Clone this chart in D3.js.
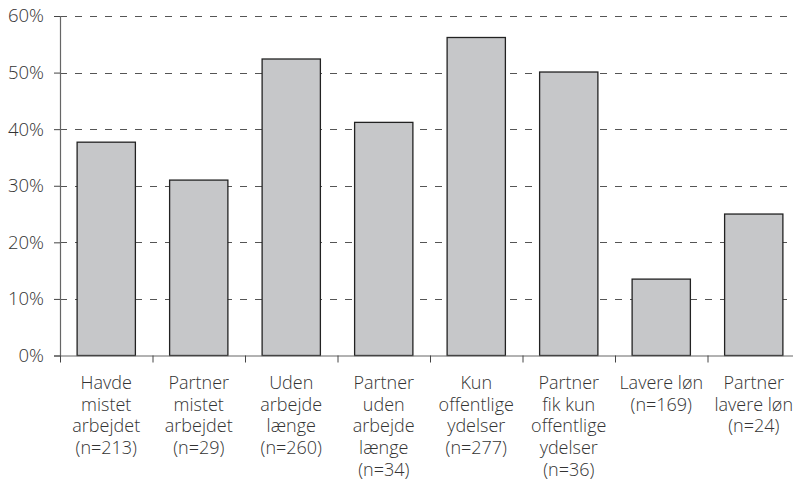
<!DOCTYPE html>
<html>
<head>
<meta charset="utf-8">
<script src="https://cdn.jsdelivr.net/npm/d3@7"></script>
<style>
  body { margin: 0; background: #fff; }
  svg { display: block; font-family: "Open Sans", "Noto Sans", sans-serif; font-weight: 300; }
</style>
</head>
<body>
<svg id="chart"></svg>
<script>
// categories, each line of the label separately
const categories = [
  ["Havde", "mistet", "arbejdet", "(n=213)"],
  ["Partner", "mistet", "arbejdet", "(n=29)"],
  ["Uden", "arbejde", "længe", "(n=260)"],
  ["Partner", "uden", "arbejde", "længe", "(n=34)"],
  ["Kun", "offentlige", "ydelser", "(n=277)"],
  ["Partner", "fik kun", "offentlige", "ydelser", "(n=36)"],
  ["Lavere løn", "(n=169)"],
  ["Partner", "lavere løn", "(n=24)"]
];
const values = [37.7, 31.0, 52.4, 41.2, 56.2, 50.1, 13.5, 25.0];
const yTicks = [0, 10, 20, 30, 40, 50, 60];

const width = 793, height = 489;
const marginLeft = 60, marginTop = 16, marginBottom = 133.5;

const svg = d3.select('#chart')
  .attr('width', width)
  .attr('height', height);

const x = d3.scaleBand()
  .domain(d3.range(categories.length))
  .range([marginLeft, 800])
  .paddingInner(0.37)
  .paddingOuter(0.185);

const xEdges = d3.scaleLinear()
  .domain([0, categories.length])
  .range([marginLeft, 800]);

const y = d3.scaleLinear()
  .domain([0, 60])
  .range([height - marginBottom, marginTop]);

// dashed grid lines
svg.append('g')
  .selectAll('line')
  .data(yTicks.filter(d => d > 0))
  .join('line')
  .attr('x1', marginLeft)
  .attr('x2', width)
  .attr('y1', d => Math.round(y(d)) + 0.5)
  .attr('y2', d => Math.round(y(d)) + 0.5)
  .attr('stroke', '#555')
  .attr('stroke-width', 1)
  .attr('stroke-dasharray', '7,8');

// bars
svg.append('g')
  .selectAll('rect')
  .data(values)
  .join('rect')
  .attr('x', (d, i) => x(i))
  .attr('y', d => y(d))
  .attr('width', x.bandwidth())
  .attr('height', d => y(0) - y(d))
  .attr('fill', '#c6c7c9')
  .attr('stroke', '#222')
  .attr('stroke-width', 1.3);

// y axis
const yAxis = svg.append('g')
  .attr('transform', `translate(${marginLeft},0)`)
  .call(d3.axisLeft(y).tickValues(yTicks).tickFormat(d => d + '%').tickSize(6).tickPadding(10));
yAxis.select('.domain').attr('stroke', '#666').attr('stroke-width', 1.2);
yAxis.selectAll('.tick line').attr('stroke', '#444');
yAxis.selectAll('.tick text')
  .attr('fill', '#333')
  .style('font-size', '18.5px')
  .style('font-family', '"Open Sans", "Noto Sans", sans-serif')
  .style('font-weight', 300);

// x axis line with boundary ticks
const xAxis = svg.append('g')
  .attr('transform', `translate(0,${y(0)})`)
  .call(d3.axisBottom(xEdges).tickValues(d3.range(categories.length + 1)).tickFormat('').tickSize(7).tickSizeOuter(0));
xAxis.select('.domain').attr('stroke', '#666').attr('stroke-width', 1.2);
xAxis.selectAll('.tick line').attr('stroke', '#444');

// category labels
const labels = svg.append('g')
  .selectAll('text')
  .data(categories)
  .join('text')
  .attr('x', (d, i) => x(i) + x.bandwidth() / 2)
  .attr('y', 389)
  .attr('text-anchor', 'middle')
  .attr('fill', '#333')
  .style('font-size', '18px');

labels.selectAll('tspan')
  .data(d => d)
  .join('tspan')
  .attr('x', function () { return this.parentNode.getAttribute('x'); })
  .attr('dy', (d, i) => i === 0 ? 0 : 21.7)
  .text(d => d);
</script>
</body>
</html>
